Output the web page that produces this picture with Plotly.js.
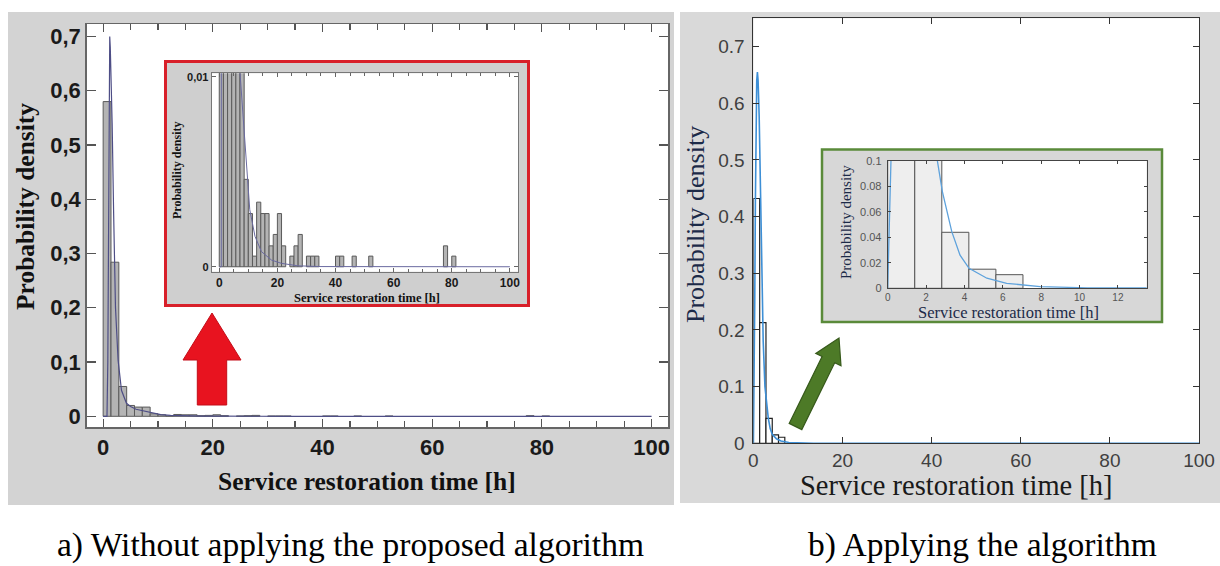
<!DOCTYPE html>
<html>
<head>
<meta charset="utf-8">
<script src="https://cdn.plot.ly/plotly-3.0.1.min.js"></script>
<style>
html,body{margin:0;padding:0;background:#fff;}
#chart{width:1220px;height:566px;}
</style>
</head>
<body>
<div id="chart"></div>
<script>
// ---------- DATA ----------
// a) Without applying the proposed algorithm: histogram (bin left edges, density)
var leftBinWidth = 1.43;
var leftBinLeft = [0, 1.43, 2.86, 4.29, 5.71, 7.14, 8.57, 10.0, 11.43, 12.86, 14.29, 15.71, 17.14, 18.57, 20.0, 21.43, 24.29, 25.71, 27.14, 30.0, 31.43, 32.86, 40.0, 41.43, 45.71, 51.43, 77.14, 80.0];
var leftDensity = [0.58, 0.284, 0.055, 0.02, 0.017, 0.017, 0.0046, 0.0028, 0.00056, 0.0034, 0.0028, 0.0028, 0.0011, 0.0017, 0.0028, 0.0011, 0.00056, 0.0011, 0.0017, 0.00056, 0.00056, 0.00056, 0.00056, 0.00056, 0.00056, 0.00056, 0.0011, 0.00056];
// fitted density curve (a)
var leftFitX = [0, 0.7, 0.85, 1.0, 1.1, 1.2, 1.3, 1.45, 1.64, 1.9, 2.25, 2.73, 3.34, 4.25, 5.0, 6.0, 7.0, 8.0, 8.6, 9.4, 10.5, 12.3, 14.5, 18, 21.4, 27, 35, 100];
var leftFitY = [0, 0, 0.1, 0.35, 0.58, 0.70, 0.68, 0.62, 0.54, 0.38, 0.2, 0.103, 0.048, 0.024, 0.018, 0.013, 0.0105, 0.0082, 0.0068, 0.005, 0.003, 0.0016, 0.0008, 0.00035, 0.00018, 0.00005, 0.00001, 0];

// b) Applying the algorithm: histogram
var rightBinWidth = 1.41;
var rightBinLeft = [0, 1.41, 2.82, 4.23, 5.64];
var rightDensity = [0.432, 0.213, 0.044, 0.015, 0.0107];
// fitted density curve (b)
var rightFitX = [0, 0.05, 0.1, 0.17, 0.3, 0.45, 0.6, 0.75, 0.9, 1.05, 1.3, 1.6, 1.9, 2.2, 2.59, 2.85, 3.34, 3.77, 4.24, 5.17, 6.2, 7.95, 10.4, 13.5, 20, 100];
var rightFitY = [0, 0.03, 0.06, 0.1, 0.25, 0.43, 0.57, 0.64, 0.655, 0.64, 0.576, 0.459, 0.29, 0.18, 0.1, 0.076, 0.0445, 0.026, 0.0157, 0.0079, 0.0039, 0.0013, 0.0003, 0.00005, 0, 0];

// tick labels
var leftXTicks = [0, 20, 40, 60, 80, 100];
var leftYTickVals = [0, 0.1, 0.2, 0.3, 0.4, 0.5, 0.6, 0.7];
var leftYTickText = ['0', '0,1', '0,2', '0,3', '0,4', '0,5', '0,6', '0,7'];
var leftInsetYTickVals = [0, 0.01];
var leftInsetYTickText = ['0', '0,01'];

// texts
var xTitle = 'Service restoration time [h]';
var yTitle = 'Probability density';
var captionA = 'a) Without applying the proposed algorithm';
var captionB = 'b) Applying the algorithm';

// ---------- LAYOUT HELPERS (pixel -> paper) ----------
var W = 1220, H = 566;
function px(x){ return x / W; }
function py(y){ return 1 - y / H; }
function rect(x0, y0, x1, y1, fill, lineColor, lineWidth, layer){
  return {type:'rect', xref:'paper', yref:'paper', x0:px(x0), x1:px(x1), y0:py(y1), y1:py(y0),
    fillcolor:fill, line:{color:lineColor || 'rgba(0,0,0,0)', width:lineWidth || 0}, layer: layer || 'below'};
}
function poly(pts, fill, lineColor, lineWidth){
  var d = pts.map(function(p, i){ return (i ? 'L' : 'M') + px(p[0]) + ',' + py(p[1]); }).join(' ') + ' Z';
  return {type:'path', xref:'paper', yref:'paper', path:d, fillcolor:fill, line:{color:lineColor, width:lineWidth}, layer:'above'};
}

var serif = 'Liberation Serif';
var sans = 'Liberation Sans';

// ---------- TRACES ----------
var traces = [
  // (a) main
  {type:'bar', x:leftBinLeft, y:leftDensity, width:leftBinWidth, offset:0, xaxis:'x', yaxis:'y',
   marker:{color:'#b4b4b4', line:{color:'#5a5a5a', width:1}}},
  {type:'scatter', mode:'lines', x:leftFitX, y:leftFitY, xaxis:'x', yaxis:'y',
   line:{color:'#4e4e86', width:1.2}},
  // (a) inset
  {type:'bar', x:leftBinLeft, y:leftDensity, width:leftBinWidth, offset:0, xaxis:'x2', yaxis:'y2',
   marker:{color:'#b4b4b4', line:{color:'#5a5a5a', width:1}}},
  {type:'scatter', mode:'lines', x:leftFitX, y:leftFitY, xaxis:'x2', yaxis:'y2',
   line:{color:'#6a6aa0', width:1}},
  // (b) main
  {type:'bar', x:rightBinLeft, y:rightDensity, width:rightBinWidth, offset:0, xaxis:'x3', yaxis:'y3',
   marker:{color:'#ffffff', line:{color:'#202020', width:1.2}}},
  {type:'scatter', mode:'lines', x:rightFitX, y:rightFitY, xaxis:'x3', yaxis:'y3',
   line:{color:'#3d8fd6', width:1.6}},
  // (b) inset
  {type:'bar', x:rightBinLeft, y:rightDensity, width:rightBinWidth, offset:0, xaxis:'x4', yaxis:'y4',
   marker:{color:'#eeeeee', line:{color:'#555555', width:1}}},
  {type:'scatter', mode:'lines', x:rightFitX, y:rightFitY, xaxis:'x4', yaxis:'y4',
   line:{color:'#5ea2dc', width:1.3}}
];

function dom(a, b, n){ return n ? [py(b), py(a)] : [px(a), px(b)]; }

var layout = {
  width: W, height: H, autosize:false,
  margin:{l:0, r:0, t:0, b:0},
  paper_bgcolor:'#ffffff', plot_bgcolor:'rgba(0,0,0,0)',
  showlegend:false, barmode:'overlay', bargap:0,
  xaxis:{domain:dom(86.7, 668), range:[-3, 103], anchor:'y', showline:true, mirror:'ticks',
    linecolor:'#666', linewidth:1.5, ticks:'inside', ticklen:8, tickwidth:1.2, tickcolor:'#555',
    tickvals:leftXTicks, showgrid:false, zeroline:false,
    tickfont:{family:sans, size:22, weight:'bold', color:'#1a1a1a'},
    minor:{dtick:5, ticks:'inside', ticklen:6, tickcolor:'#555', showgrid:false}},
  yaxis:{domain:dom(24, 427, 1), range:[-0.0197, 0.723], anchor:'x', showline:true, mirror:'ticks',
    linecolor:'#666', linewidth:1.5, ticks:'inside', ticklen:9, tickwidth:1.2, tickcolor:'#555',
    tickvals:leftYTickVals, ticktext:leftYTickText, showgrid:false, zeroline:false,
    tickfont:{family:sans, size:22, weight:'bold', color:'#1a1a1a'}},
  xaxis2:{domain:dom(211.7, 518.3), range:[-2.6, 102.9], anchor:'y2', showline:true, mirror:'ticks',
    linecolor:'#777', linewidth:1, ticks:'inside', ticklen:4, tickcolor:'#666',
    tickvals:leftXTicks, showgrid:false, zeroline:false,
    tickfont:{family:sans, size:12, weight:'bold', color:'#1a1a1a'},
    minor:{dtick:5, ticks:'inside', ticklen:3, tickcolor:'#666', showgrid:false}},
  yaxis2:{domain:dom(73.3, 271.7, 1), range:[-0.00026, 0.01018], anchor:'x2', showline:true, mirror:'ticks',
    linecolor:'#777', linewidth:1, ticks:'inside', ticklen:4, tickcolor:'#666',
    tickvals:leftInsetYTickVals, ticktext:leftInsetYTickText, showgrid:false, zeroline:false,
    tickfont:{family:sans, size:11, weight:'bold', color:'#1a1a1a'}},
  xaxis3:{domain:dom(753.4, 1199), range:[0, 100], anchor:'y3', showline:true, mirror:'ticks',
    linecolor:'#333', linewidth:1, ticks:'inside', ticklen:6, tickcolor:'#333',
    dtick:20, tick0:0, showgrid:false, zeroline:false,
    tickfont:{family:sans, size:19, color:'#404040'}},
  yaxis3:{domain:dom(18.3, 443.3, 1), range:[0, 0.75], anchor:'x3', showline:true, mirror:'ticks',
    linecolor:'#333', linewidth:1, ticks:'inside', ticklen:6, tickcolor:'#333',
    dtick:0.1, tick0:0, showgrid:false, zeroline:false, ticklabelstandoff:4,
    tickfont:{family:sans, size:19, color:'#404040'}},
  xaxis4:{domain:dom(887.7, 1146.7), range:[0, 13.5], anchor:'y4', showline:true, mirror:'ticks',
    linecolor:'#444', linewidth:1, ticks:'inside', ticklen:3, tickcolor:'#444',
    dtick:2, tick0:0, showgrid:false, zeroline:false,
    tickfont:{family:sans, size:10, color:'#555'}},
  yaxis4:{domain:dom(161, 288.3, 1), range:[0, 0.1], anchor:'x4', showline:true, mirror:'ticks',
    linecolor:'#444', linewidth:1, ticks:'inside', ticklen:3, tickcolor:'#444',
    dtick:0.02, tick0:0, showgrid:false, zeroline:false, ticklabelstandoff:3,
    tickfont:{family:sans, size:11, color:'#555'}},
  shapes:[
    rect(8, 12, 674, 505, '#d3d3d3'),
    rect(680, 12, 1220, 503, '#d9d9d9'),
    rect(86.7, 24, 668, 427, '#ffffff'),
    rect(753.4, 18.3, 1199, 443.3, '#ffffff'),
    rect(165.5, 61.5, 528.5, 305.5, '#cfcfcf', '#d8202a', 3),
    rect(211.7, 73.3, 518.3, 271.7, '#ffffff'),
    rect(822, 149.5, 1162, 322, '#d7d7d7', '#5a8a3a', 2.5),
    rect(887.7, 161, 1146.7, 288.3, '#ffffff'),
    // red arrow
    poly([[212,313],[241,360],[226.7,360],[226.7,405],[197.3,405],[197.3,360],[183,360]], '#e8131f', '#c40d18', 1),
    // green arrow
    poly([[839,338],[841,365.8],[834.7,362.7],[801.8,429.6],[789.2,423.4],[822.1,356.5],[815.8,353.4]], '#4d7a27', '#36591a', 1.2)
  ],
  annotations:[
    {xref:'paper', yref:'paper', x:px(367), y:py(482), text:'<b>'+xTitle+'</b>', showarrow:false,
     xanchor:'center', yanchor:'middle', font:{family:serif, size:25.5, color:'#111'}},
    {xref:'paper', yref:'paper', x:px(26), y:py(207), text:'<b>'+yTitle+'</b>', showarrow:false, textangle:-90,
     xanchor:'center', yanchor:'middle', font:{family:serif, size:25.5, color:'#111'}},
    {xref:'paper', yref:'paper', x:px(367), y:py(298), text:'<b>'+xTitle+'</b>', showarrow:false,
     xanchor:'center', yanchor:'middle', font:{family:serif, size:12.5, color:'#111'}},
    {xref:'paper', yref:'paper', x:px(177), y:py(171), text:'<b>'+yTitle+'</b>', showarrow:false, textangle:-90,
     xanchor:'center', yanchor:'middle', font:{family:serif, size:12, color:'#111'}},
    {xref:'paper', yref:'paper', x:px(956), y:py(485), text:xTitle, showarrow:false,
     xanchor:'center', yanchor:'middle', font:{family:serif, size:28.5, color:'#1a1a1a'}},
    {xref:'paper', yref:'paper', x:px(696), y:py(225), text:yTitle, showarrow:false, textangle:-90,
     xanchor:'center', yanchor:'middle', font:{family:serif, size:26, color:'#1c2a48'}},
    {xref:'paper', yref:'paper', x:px(1008), y:py(312), text:xTitle, showarrow:false,
     xanchor:'center', yanchor:'middle', font:{family:serif, size:16.5, color:'#1c2a48'}},
    {xref:'paper', yref:'paper', x:px(846), y:py(222), text:yTitle, showarrow:false, textangle:-90,
     xanchor:'center', yanchor:'middle', font:{family:serif, size:15, color:'#1c2a48'}},
    {xref:'paper', yref:'paper', x:px(350), y:py(545), text:captionA, showarrow:false,
     xanchor:'center', yanchor:'middle', font:{family:serif, size:33.5, color:'#000'}},
    {xref:'paper', yref:'paper', x:px(982), y:py(545), text:captionB, showarrow:false,
     xanchor:'center', yanchor:'middle', font:{family:serif, size:33.5, color:'#000'}}
  ]
};

Plotly.newPlot('chart', traces, layout, {displayModeBar:false, staticPlot:true});
</script>
</body>
</html>
